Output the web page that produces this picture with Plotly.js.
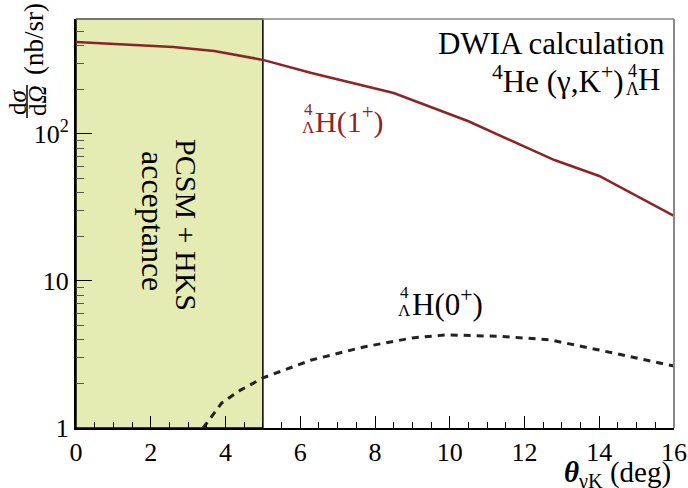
<!DOCTYPE html>
<html><head><meta charset="utf-8">
<script src="https://cdn.plot.ly/plotly-3.0.1.min.js"></script>
<style>html,body{margin:0;padding:0;background:#fff}#c{width:688px;height:488px}</style>
</head><body><div id="c"></div>
<script>
// DWIA cross sections
const theta1 = [0, 1.2, 2.6, 3.7, 5.0, 6.3, 8.5, 10.5, 12.8, 14.0, 16.0];
const xs1plus = [423, 410, 391, 367, 319, 260, 190, 122, 66.5, 51.8, 27.7];
const theta0 = [3.4, 3.9, 4.4, 5.0, 6.3, 7.7, 9.0, 9.9, 11.4, 12.7, 14.0, 16.0];
const xs0plus = [1.0, 1.48, 1.81, 2.19, 2.9, 3.56, 4.1, 4.3, 4.2, 3.97, 3.39, 2.64];
const acceptance = [0, 5];
const xTickVals = [0, 2, 4, 6, 8, 10, 12, 14, 16];
const yTickVals = [1, 10, 100];
const yTickText = ['1', '10', '10<sup>2</sup>'];
const yMinorVals = [2,3,4,5,6,7,8,9,20,30,40,50,60,70,80,90,200,300,400,500,600];

const F = 'Liberation Serif';
const red = '#8b2525';

const traces = [
  {x: theta1, y: xs1plus, mode: 'lines', line: {color: red, width: 2.5}, hoverinfo: 'skip'},
  {x: theta0, y: xs0plus, mode: 'lines', line: {color: '#222', width: 3, dash: '7px,6px'}, hoverinfo: 'skip'}
];

function ann(text, x, y, size, opts) {
  const o = Object.assign({text: text, x: x, y: y, xref: 'paper', yref: 'paper', showarrow: false,
    xanchor: 'center', yanchor: 'middle'}, opts || {});
  o.font = {family: F, size: size, color: (opts && opts.color) || '#000'};
  return o;
}
// pixel helpers for label placement (plot area 76..674, 19..428)
const px = v => (v - 76) / 598;
const py = v => (428 - v) / 409;

const annotations = [
  ann('DWIA calculation', px(667), py(43), 31, {xanchor: 'right'}),
  ann('<sup>4</sup>He (γ,K<sup>+</sup>)', px(625), py(80), 31, {xanchor: 'right'}),
  ann('4', px(632), py(71), 18),
  ann('Λ', px(632), py(89), 18),
  ann('H', px(636), py(80), 31, {xanchor: 'left'}),
  // 1+ label
  ann('4', px(308), py(110), 17, {color: red}),
  ann('Λ', px(308), py(128), 17, {color: red}),
  ann('H(1<sup>+</sup>)', px(313), py(120), 30, {xanchor: 'left', color: red}),
  // 0+ label
  ann('4', px(404), py(292), 17),
  ann('Λ', px(404), py(310), 17),
  ann('H(0<sup>+</sup>)', px(410), py(302), 31, {xanchor: 'left'}),
  // acceptance
  ann('PCSM + HKS', px(187), py(225), 30, {textangle: 90}),
  ann('acceptance', px(153), py(221), 32, {textangle: 90}),
  // y title
  ann('d<i>σ</i>', px(17), py(102), 25, {textangle: -90}),
  ann('d<i>Ω</i>', px(37), py(101), 25, {textangle: -90}),
  ann('(nb/sr)', px(34), py(39), 27, {textangle: -90}),
  // x title
  ann('<b><i>θ</i></b><sub>γK</sub> (deg)', px(673), py(474), 29, {xanchor: 'right'})
];

const shapes = [
  {type: 'rect', xref: 'x', yref: 'paper', x0: acceptance[0], x1: acceptance[1], y0: 0, y1: 1,
   fillcolor: '#e4ecb4', line: {color: '#000', width: 1.5}, layer: 'below'},
  {type: 'line', xref: 'paper', yref: 'paper', x0: 0, x1: 1, y0: 1, y1: 1, line: {color: '#888', width: 1.5}, layer: 'below'},
  {type: 'line', xref: 'paper', yref: 'paper', x0: 1, x1: 1, y0: 0, y1: 1, line: {color: '#888', width: 2}},
  {type: 'line', xref: 'paper', yref: 'paper', x0: px(27), x1: px(27), y0: py(85), y1: py(118), line: {color: '#000', width: 1.5}}
];

const layout = {
  width: 688, height: 488,
  margin: {l: 76, r: 14, t: 19, b: 60},
  paper_bgcolor: '#fff', plot_bgcolor: '#fff',
  showlegend: false,
  font: {family: F, size: 24, color: '#000'},
  xaxis: {range: [0, 16], tickvals: xTickVals, ticks: 'inside', ticklen: 12, tickcolor: '#000', tickwidth: 1,
    showline: true, linecolor: '#000', linewidth: 2, showgrid: false, zeroline: false,
    tickfont: {family: F, size: 26},
    minor: {dtick: 0.5, ticks: 'inside', ticklen: 6, tickcolor: '#000', tickwidth: 1, showgrid: false}},
  yaxis: {type: 'log', range: [0, 2.782], tickmode: 'array', tickvals: yTickVals, ticktext: yTickText,
    ticks: 'inside', ticklen: 16, tickcolor: '#000', tickwidth: 1,
    showline: true, linecolor: '#000', linewidth: 2, showgrid: false, zeroline: false,
    tickfont: {family: F, size: 26},
    minor: {tickmode: 'array', tickvals: yMinorVals, ticks: 'inside', ticklen: 8, tickcolor: '#555', tickwidth: 1, showgrid: false}},
  annotations: annotations,
  shapes: shapes
};

Plotly.newPlot('c', traces, layout, {displayModeBar: false, staticPlot: true});
</script></body></html>
